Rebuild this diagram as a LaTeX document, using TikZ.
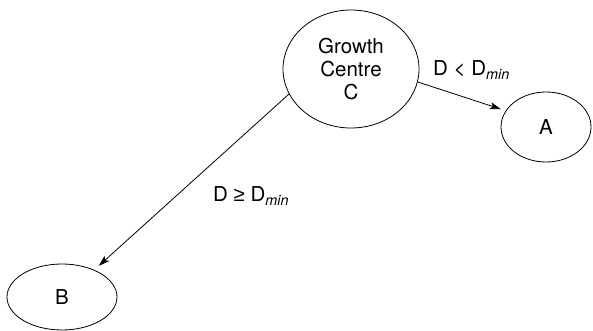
\documentclass[tikz,border=0pt]{standalone}
\usepackage{fontspec}
\setmainfont{TeX Gyre Heros}
\newfontfamily\symfont{Liberation Sans}
\usetikzlibrary{shapes.geometric,arrows.meta}
\tikzset{
  place/.style={ellipse,draw,line width=0.8pt,inner sep=0pt,align=center,
    font=\fontsize{20.5}{23}\selectfont},
  link/.style={line width=0.8pt,-{Stealth[length=11pt,width=7pt,inset=2.5pt]}},
  lbl/.style={font=\fontsize{20.5}{23}\selectfont,inner sep=0pt,anchor=west}
}
\newcommand{\dmin}{D\textsubscript{\itshape min}}
\begin{document}
\begin{tikzpicture}[x=1pt,y=-1pt]
\useasboundingbox (0,0) rectangle (593,331);
\node[place,minimum width=136pt,minimum height=118pt] (C) at (351,69) {Growth\\Centre\\C};
\node[place,minimum width=90pt,minimum height=70pt] (A) at (546,127) {A};
\node[place,minimum width=110pt,minimum height=66pt] (B) at (62,297) {B};
\draw[link,shorten >=5pt] (C.349) -- (A.158);
\draw[link,shorten >=6pt] (C.202) -- (B.40);
\node[lbl] (l1) at (433,70) {D < \dmin};
\node[lbl] (l2) at (213,196) {D {\symfont ≥} \dmin};
\end{tikzpicture}
\end{document}
